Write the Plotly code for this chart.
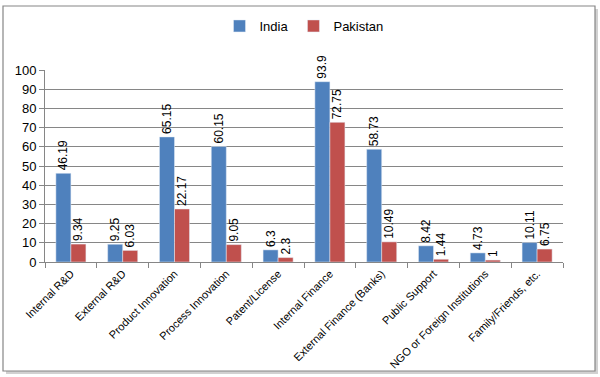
import plotly.graph_objects as go

categories = ["Internal R&D", "External R&D", "Product Innovation", "Process Innovation",
              "Patent/License", "Internal Finance", "External Finance (Banks)", "Public Support",
              "NGO or Foreign Institutions", "Family/Friends, etc."]
india = [46.19, 9.25, 65.15, 60.15, 6.3, 93.9, 58.73, 8.42, 4.73, 10.11]
pakistan = [9.34, 6.03, 27.6, 9.05, 2.3, 72.75, 10.49, 1.44, 1, 6.75]
india_labels = ["46.19", "9.25", "65.15", "60.15", "6.3", "93.9", "58.73", "8.42", "4.73", "10.11"]
pakistan_labels = ["9.34", "6.03", "22.17", "9.05", "2.3", "72.75", "10.49", "1.44", "1", "6.75"]
y_ticks = [0, 10, 20, 30, 40, 50, 60, 70, 80, 90, 100]

W, H = 600, 377
L, R, T, B = 45, 37, 70, 115
pw, ph = W - L - R, H - T - B

def px(x):
    return (x - L) / pw

def py(y):
    return (H - B - y) / ph

fig = go.Figure()
fig.add_trace(go.Bar(x=categories, y=india, name="India", marker_color="#4F81BD",
                     text=india_labels, textposition="outside", textangle=-90,
                     constraintext="none",
                     textfont=dict(size=12, color="black"), cliponaxis=False))
fig.add_trace(go.Bar(x=categories, y=pakistan, name="Pakistan", marker_color="#C0504D",
                     text=pakistan_labels, textposition="outside", textangle=-90,
                     constraintext="none",
                     textfont=dict(size=12, color="black"), cliponaxis=False))

shapes = [
    dict(type="rect", xref="paper", yref="paper", x0=px(6), x1=px(598), y0=py(9), y1=py(374),
         line=dict(width=0), fillcolor="rgba(0,0,0,0.18)", layer="below"),
    dict(type="rect", xref="paper", yref="paper", x0=px(3), x1=px(595), y0=py(6), y1=py(371),
         line=dict(color="#868686", width=1.2), fillcolor="white", layer="below"),
]

fig.update_layout(
    width=W, height=H,
    margin=dict(l=L, r=R, t=T, b=B, autoexpand=False),
    paper_bgcolor="white", plot_bgcolor="rgba(0,0,0,0)",
    font=dict(family="Liberation Sans, Arial, sans-serif", size=12, color="black"),
    barmode="group", bargap=0.42, bargroupgap=0,
    showlegend=True,
    legend=dict(orientation="h", x=0.5, xanchor="center", y=py(26), yanchor="middle",
                font=dict(size=13), itemwidth=30, bgcolor="rgba(0,0,0,0)",
                traceorder="normal"),
    shapes=shapes,
)
fig.update_xaxes(tickangle=-45, tickfont=dict(size=11), showline=True, linecolor="#868686",
                 ticks="outside", tickson="boundaries", ticklen=5, tickcolor="#868686",
                 showgrid=False, automargin=False)
fig.update_yaxes(range=[0, 100], tickvals=y_ticks, tickfont=dict(size=13), showline=True,
                 linecolor="#868686", ticks="outside", ticklen=5, tickcolor="#868686",
                 gridcolor="#868686", gridwidth=1, zeroline=False, automargin=False)

fig.write_html("out.html", config={"displayModeBar": False},
               post_script="document.body.style.margin='0';")
